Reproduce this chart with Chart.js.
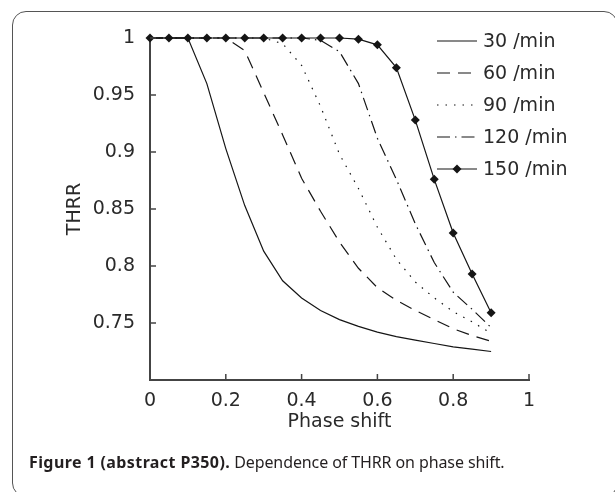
<!DOCTYPE html>
<html>
<head>
<meta charset="utf-8">
<script src="https://cdn.jsdelivr.net/npm/chart.js@4.4.0/dist/chart.umd.min.js"></script>
<style>
  html, body { margin: 0; padding: 0; background: #fff; }
  #wrap { position: relative; width: 615px; height: 492px; overflow: hidden; }
  #frame { position: absolute; left: 12px; top: 11px; width: 606px; height: 486px;
           border: 1.5px solid #555; border-radius: 14px; box-sizing: border-box; }
  #myChart { position: absolute; left: 0; top: 0; }
  #caption { position: absolute; left: 29px; top: 451px; font-family: "Noto Sans", sans-serif;
             font-size: 16px; color: #231f20; white-space: nowrap; letter-spacing: -0.1px; }
  #caption b { letter-spacing: 0.4px; }
</style>
</head>
<body>
<div id="wrap">
  <div id="frame"></div>
  <canvas id="myChart" width="615" height="492"></canvas>
  <div id="caption"><b>Figure 1 (abstract P350).</b> Dependence of THRR on phase shift.</div>
</div>
<script>
// phase shift values (x)
const phaseShift = [0, 0.05, 0.1, 0.15, 0.2, 0.25, 0.3, 0.35, 0.4, 0.45, 0.5, 0.55, 0.6, 0.65, 0.7, 0.75, 0.8, 0.85, 0.9];

// THRR per heart rate
const thrr30  = [1, 1, 1, 0.96, 0.903, 0.853, 0.813, 0.787, 0.772, 0.761, 0.753, 0.747, 0.742, 0.738, 0.735, 0.732, 0.729, 0.727, 0.725];
const thrr60  = [1, 1, 1, 1, 1, 0.989, 0.952, 0.915, 0.877, 0.848, 0.821, 0.798, 0.781, 0.770, 0.761, 0.753, 0.745, 0.739, 0.734];
const thrr90  = [1, 1, 1, 1, 1, 1, 1, 0.995, 0.976, 0.94, 0.898, 0.868, 0.834, 0.806, 0.786, 0.772, 0.760, 0.751, 0.741];
const thrr120 = [1, 1, 1, 1, 1, 1, 1, 1, 1, 0.998, 0.988, 0.96, 0.912, 0.876, 0.837, 0.803, 0.777, 0.762, 0.746];
const thrr150 = [1, 1, 1, 1, 1, 1, 1, 1, 1, 1, 1, 0.999, 0.994, 0.974, 0.928, 0.876, 0.829, 0.793, 0.759];

const seriesLabels = ['30 /min', '60 /min', '90 /min', '120 /min', '150 /min'];
const xTicks = [0, 0.2, 0.4, 0.6, 0.8, 1];
const yTicks = [0.7, 0.75, 0.8, 0.85, 0.9, 0.95, 1];

const lineColor = '#151515';
const textColor = '#2a2a2a';
const axisFont = { family: '"DejaVu Sans"', size: 19 };

function toPoints(values) {
  return phaseShift.map((x, i) => ({ x: x, y: values[i] }));
}

function makeDataset(label, values, dash, withMarkers) {
  return {
    label: label,
    data: toPoints(values),
    borderColor: lineColor,
    backgroundColor: lineColor,
    borderWidth: 1.2,
    borderDash: dash,
    pointRadius: withMarkers ? 4.5 : 0,
    pointStyle: 'rectRot',
    pointBorderWidth: 0,
    tension: 0,
    clip: false,
  };
}

// inward tick marks on both axes
const innerTicks = {
  id: 'innerTicks',
  afterDraw(chart) {
    const ctx = chart.ctx;
    const xs = chart.scales.x, ys = chart.scales.y;
    const area = chart.chartArea;
    ctx.save();
    ctx.strokeStyle = '#444';
    ctx.lineWidth = 1.5;
    ctx.beginPath();
    xTicks.forEach(v => {
      const px = xs.getPixelForValue(v);
      ctx.moveTo(px, area.bottom);
      ctx.lineTo(px, area.bottom - 6);
    });
    yTicks.forEach(v => {
      const py = ys.getPixelForValue(v);
      ctx.moveTo(area.left, py);
      ctx.lineTo(area.left + 6, py);
    });
    ctx.stroke();
    ctx.restore();
  }
};

// legend without box, top right
const lineLegend = {
  id: 'lineLegend',
  afterDraw(chart) {
    const ctx = chart.ctx;
    chart.data.datasets.forEach((ds, i) => {
      const y = 41 + i * 32;
      ctx.save();
      ctx.strokeStyle = ds.borderColor;
      ctx.lineWidth = ds.borderWidth;
      ctx.setLineDash(ds.borderDash || []);
      ctx.beginPath();
      ctx.moveTo(437, y);
      ctx.lineTo(477, y);
      ctx.stroke();
      ctx.setLineDash([]);
      if (ds.pointRadius) {
        const r = ds.pointRadius;
        ctx.fillStyle = ds.backgroundColor;
        ctx.beginPath();
        ctx.moveTo(457, y - r);
        ctx.lineTo(457 + r, y);
        ctx.lineTo(457, y + r);
        ctx.lineTo(457 - r, y);
        ctx.closePath();
        ctx.fill();
      }
      ctx.fillStyle = textColor;
      ctx.font = '19px "DejaVu Sans"';
      ctx.textBaseline = 'middle';
      ctx.fillText(ds.label, 483, y + 1);
      ctx.restore();
    });
  }
};

const ctx = document.getElementById('myChart').getContext('2d');
const myChart = new Chart(ctx, {
  type: 'line',
  data: {
    datasets: [
      makeDataset(seriesLabels[0], thrr30, [], false),
      makeDataset(seriesLabels[1], thrr60, [13, 8], false),
      makeDataset(seriesLabels[2], thrr90, [1.5, 7], false),
      makeDataset(seriesLabels[3], thrr120, [13, 5, 1.5, 5], false),
      makeDataset(seriesLabels[4], thrr150, [], true),
    ],
  },
  options: {
    responsive: false,
    animation: false,
    layout: { padding: { left: 0, top: 38, right: 86, bottom: 50 } },
    plugins: { legend: { display: false }, tooltip: { enabled: false } },
    scales: {
      x: {
        type: 'linear',
        min: 0,
        max: 1,
        afterBuildTicks: s => { s.ticks = xTicks.map(v => ({ value: v })); },
        afterFit: s => { s.height = 62; },
        grid: { display: false },
        border: { display: true, color: '#444', width: 2 },
        ticks: { font: axisFont, color: textColor, padding: 2, maxRotation: 0, callback: v => String(v) },
        title: { display: true, text: 'Phase shift', font: axisFont, color: textColor, padding: { top: 0, bottom: 9 } },
      },
      y: {
        type: 'linear',
        min: 0.7,
        max: 1,
        afterBuildTicks: s => { s.ticks = yTicks.map(v => ({ value: v })); },
        afterFit: s => { s.width = 150; },
        grid: { display: false },
        border: { display: true, color: '#444', width: 2 },
        ticks: { font: axisFont, color: textColor, padding: 7, callback: v => (v === 0.7 ? '' : String(v)) },
        title: { display: true, text: 'THRR', font: axisFont, color: textColor, padding: { top: 64, bottom: 0 } },
      },
    },
  },
  plugins: [innerTicks, lineLegend],
});
</script>
</body>
</html>
